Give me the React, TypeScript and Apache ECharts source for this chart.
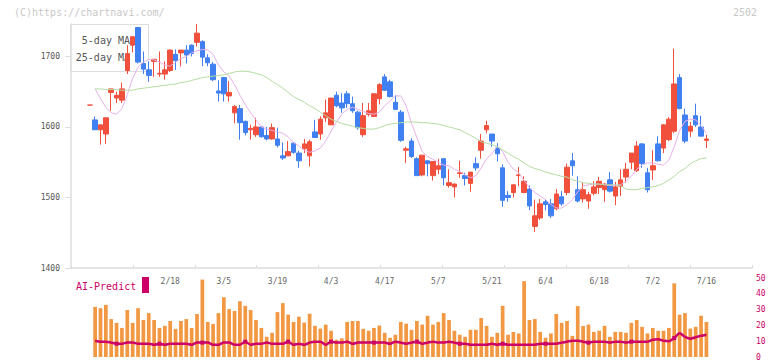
import React, { useEffect, useRef } from "react";
import * as echarts from "echarts";

// Daily candles, oldest first (one per trading day)
const OPEN = [
  1631, 1610, 1596, 1590, 1649, 1641, 1638, 1680, 1716, 1741,
  1690, 1681, 1693, 1675, 1675, 1680, 1703, 1705, 1709, 1716,
  1720, 1721, 1698, 1689, 1651, 1670, 1644, 1620, 1626, 1608,
  1596, 1589, 1600, 1588, 1583, 1583, 1559, 1559, 1577, 1563,
  1569, 1559, 1593, 1590, 1613, 1603, 1645, 1634, 1647, 1633,
  1621, 1589, 1618, 1615, 1640, 1671, 1664, 1635, 1621, 1567,
  1580, 1555, 1532, 1552, 1531, 1540, 1555, 1517, 1515, 1534,
  1531, 1520, 1548, 1567, 1596, 1590, 1570, 1542, 1503, 1507,
  1531, 1507, 1512, 1459, 1471, 1494, 1491, 1484, 1501, 1507,
  1552, 1511, 1498, 1495, 1506, 1514, 1511, 1525, 1502, 1516,
  1529, 1550, 1538, 1576, 1535, 1539, 1576, 1570, 1582, 1594,
  1670, 1617, 1594, 1616, 1600, 1581,
];
const CLOSE = [
  1631, 1596, 1603, 1613, 1654, 1645, 1654, 1704, 1728, 1692,
  1682, 1673, 1696, 1676, 1681, 1709, 1694, 1709, 1702, 1704,
  1733, 1699, 1691, 1667, 1648, 1647, 1649, 1629, 1606, 1592,
  1598, 1600, 1586, 1583, 1599, 1574, 1556, 1565, 1564, 1552,
  1576, 1579, 1585, 1611, 1620, 1641, 1630, 1627, 1633, 1623,
  1599, 1616, 1623, 1647, 1660, 1652, 1643, 1625, 1581, 1569,
  1558, 1531, 1560, 1548, 1551, 1545, 1528, 1521, 1519, 1535,
  1527, 1536, 1542, 1580, 1602, 1580, 1562, 1496, 1500, 1518,
  1532, 1523, 1488, 1474, 1491, 1490, 1474, 1505, 1491, 1543,
  1545, 1495, 1511, 1504, 1515, 1523, 1519, 1509, 1515, 1525,
  1540, 1563, 1573, 1548, 1511, 1545, 1552, 1603, 1611, 1661,
  1626, 1580, 1601, 1603, 1587, 1583,
];
const LOW = [
  1631, 1596, 1575, 1576, 1623, 1634, 1634, 1675, 1706, 1690,
  1675, 1664, 1671, 1671, 1667, 1678, 1681, 1686, 1690, 1700,
  1714, 1686, 1686, 1665, 1636, 1636, 1636, 1605, 1582, 1588,
  1582, 1586, 1585, 1581, 1582, 1571, 1553, 1559, 1562, 1542,
  1563, 1544, 1585, 1582, 1607, 1603, 1628, 1620, 1627, 1620,
  1596, 1586, 1615, 1614, 1632, 1651, 1642, 1624, 1579, 1549,
  1556, 1531, 1530, 1530, 1524, 1533, 1517, 1514, 1500, 1528,
  1517, 1508, 1538, 1555, 1591, 1572, 1551, 1487, 1494, 1500,
  1516, 1506, 1482, 1451, 1468, 1482, 1471, 1482, 1488, 1503,
  1531, 1493, 1493, 1484, 1503, 1505, 1494, 1507, 1489, 1502,
  1521, 1540, 1536, 1542, 1507, 1525, 1551, 1563, 1580, 1591,
  1625, 1577, 1586, 1600, 1587, 1570,
];
const HIGH = [
  1631, 1615, 1603, 1613, 1654, 1650, 1663, 1716, 1728, 1742,
  1707, 1693, 1696, 1707, 1693, 1710, 1710, 1709, 1716, 1717,
  1746, 1723, 1703, 1692, 1666, 1671, 1665, 1631, 1631, 1609,
  1603, 1613, 1601, 1600, 1605, 1599, 1578, 1580, 1578, 1566,
  1583, 1582, 1610, 1615, 1639, 1641, 1650, 1648, 1651, 1643,
  1623, 1634, 1634, 1648, 1662, 1675, 1667, 1645, 1624, 1572,
  1584, 1557, 1560, 1553, 1551, 1555, 1555, 1540, 1520, 1552,
  1535, 1536, 1557, 1590, 1609, 1590, 1577, 1547, 1509, 1518,
  1543, 1530, 1517, 1497, 1498, 1497, 1498, 1512, 1509, 1548,
  1563, 1530, 1522, 1508, 1523, 1529, 1520, 1536, 1522, 1540,
  1549, 1563, 1580, 1577, 1542, 1567, 1587, 1604, 1614, 1711,
  1675, 1626, 1607, 1633, 1616, 1589,
];

// Moving averages (price)
const MA5 = [
  null, 1654, 1640, 1628, 1620, 1618, 1626, 1646, 1669, 1685,
  1692, 1696, 1695, 1692, 1688, 1686, 1692, 1697, 1700, 1705,
  1708, 1710, 1709, 1703, 1688, 1678, 1672, 1660, 1645, 1632,
  1620, 1610, 1600, 1597, 1595, 1593, 1591, 1586, 1578, 1573,
  1567, 1564, 1566, 1570, 1580, 1594, 1607, 1618, 1625, 1628,
  1625, 1622, 1619, 1618, 1621, 1630, 1637, 1644, 1644, 1630,
  1605, 1585, 1565, 1558, 1554, 1550, 1546, 1545, 1540, 1537,
  1532, 1528, 1531, 1542, 1555, 1562, 1573, 1565, 1550, 1540,
  1535, 1524, 1514, 1507, 1502, 1497, 1490, 1485, 1485, 1490,
  1497, 1508, 1516, 1518, 1519, 1519, 1518, 1517, 1517, 1518,
  1523, 1530, 1540, 1546, 1549, 1549, 1547, 1546, 1553, 1572,
  1595, 1608, 1611, 1610, 1602, 1591,
];
const MA25 = [
  null, 1654, 1654, 1653, 1653, 1653, 1652, 1652, 1652, 1654,
  1655, 1656, 1657, 1658, 1659, 1660, 1661, 1663, 1664, 1666,
  1668, 1670, 1671, 1672, 1673, 1674, 1676, 1678, 1679, 1679,
  1678, 1676, 1674, 1670, 1665, 1660, 1655, 1649, 1643, 1639,
  1635, 1630, 1626, 1621, 1616, 1611, 1608, 1605, 1603, 1601,
  1599, 1598, 1597, 1597, 1599, 1602, 1604, 1605, 1606, 1607,
  1607, 1607, 1606, 1606, 1605, 1604, 1602, 1600, 1598, 1596,
  1592, 1588, 1584, 1579, 1577, 1575, 1572, 1567, 1563, 1558,
  1554, 1549, 1544, 1541, 1539, 1536, 1534, 1532, 1530, 1529,
  1525, 1523, 1521, 1520, 1519, 1519, 1518, 1518, 1518, 1517,
  1512, 1511, 1511, 1513, 1514, 1515, 1517, 1520, 1525, 1530,
  1537, 1541, 1548, 1552, 1555, 1556,
];

// Lower panel
const VOLUME = [
  null, 31.7, 30.9, 33.0, 24.0, 21.6, 18.4, 29.7, 21.6, 30.9,
  23.4, 27.8, 23.4, 18.4, 19.7, 22.8, 17.8, 22.8, 24.0, 18.4,
  27.2, 49.0, 22.2, 20.9, 27.8, 37.8, 30.3, 29.1, 35.3, 32.4,
  29.7, 23.4, 18.4, 12.8, 15.3, 28.4, 34.1, 26.8, 22.2, 25.5,
  21.8, 27.4, 19.7, 18.0, 20.5, 16.6, 10.9, 11.8, 22.2, 22.8,
  22.8, 17.8, 16.6, 18.4, 19.9, 15.3, 12.2, 14.1, 22.2, 21.1,
  17.2, 22.8, 20.5, 26.1, 20.5, 22.2, 27.8, 23.4, 16.6, 14.1,
  12.8, 17.2, 17.2, 24.7, 19.7, 12.8, 15.3, 32.4, 14.1, 15.9,
  14.9, 48.0, 23.4, 24.0, 15.9, 12.2, 14.9, 27.2, 21.6, 22.8,
  13.4, 32.2, 19.7, 20.5, 15.9, 16.6, 19.7, 12.8, 15.9, 15.9,
  15.3, 21.6, 23.4, 19.1, 14.9, 18.4, 16.6, 16.6, 18.4, 46.6,
  26.8, 27.8, 18.0, 19.1, 26.1, 22.2,
];
const AI_PREDICT = [
  null, 10.3, 9.7, 9.7, 9.1, 8.4, 8.4, 9.1, 9.1, 8.4,
  8.4, 8.4, 7.8, 8.4, 7.8, 8.4, 8.4, 8.4, 8.4, 7.8,
  9.1, 9.1, 9.1, 7.8, 7.8, 9.1, 9.1, 7.8, 7.8, 9.7,
  7.8, 8.4, 8.4, 9.1, 8.4, 8.4, 8.4, 9.7, 7.8, 8.4,
  7.8, 9.1, 9.7, 9.7, 7.8, 9.7, 9.1, 9.1, 9.7, 8.4,
  9.1, 9.1, 9.1, 9.1, 9.1, 9.1, 8.4, 9.7, 9.1, 8.4,
  9.1, 9.7, 8.4, 9.1, 9.7, 9.1, 9.1, 9.7, 9.1, 8.4,
  8.4, 7.8, 7.8, 7.8, 7.8, 8.4, 7.8, 8.4, 7.8, 7.8,
  7.8, 7.8, 7.8, 7.8, 8.4, 8.4, 8.4, 8.4, 9.1, 9.7,
  10.3, 10.3, 9.7, 9.1, 9.7, 9.7, 9.7, 9.1, 9.7, 9.7,
  9.1, 9.7, 9.7, 9.7, 9.7, 10.9, 11.2, 10.3, 10.0, 12.0,
  15.0, 12.8, 11.6, 12.5, 13.4, 14.1,
];

// Date labels, one every 10 sessions, the last on the latest session
const DATE_LABELS = ["2/18", "3/5", "3/19", "4/3", "4/17", "5/7", "5/21", "6/4", "6/18", "7/2", "7/16"];
const LABEL_STEP = 10;
const PRICE_TICKS = [1400, 1500, 1600, 1700];
const LOWER_TICKS = [0, 10, 20, 30, 40, 50];

const LEAD = 3; // empty slots before the first session
const TRAIL = 8; // empty slots after the last session

const UP = "#f0503c";
const DOWN = "#4080f0";
const MAGENTA = "#cc0066";
const MONO = "DejaVu Sans Mono";

export default function App() {
  const ref = useRef<HTMLDivElement>(null);

  useEffect(() => {
    if (!ref.current) return;
    const chart = echarts.init(ref.current, undefined, { renderer: "svg" });

    const n = OPEN.length;
    const slotCount = LEAD + n + TRAIL;
    const pad = (arr: any[], empty: any = null) => [
      ...Array(LEAD).fill(empty),
      ...arr,
      ...Array(TRAIL).fill(empty),
    ];
    const labelBySlot: Record<number, string> = {};
    DATE_LABELS.forEach((d, k) => {
      const session = n - 1 - LABEL_STEP * (DATE_LABELS.length - 1 - k);
      labelBySlot[LEAD + session] = d;
    });
    const slots = Array.from({ length: slotCount }, (_, i) => labelBySlot[i] ?? "");

    // Sessions that closed flat keep the rising colour
    const candles = pad(
      OPEN.map((o, i) => {
        const value = [o, CLOSE[i], LOW[i], HIGH[i]];
        if (o !== CLOSE[i]) return value;
        return {
          value,
          itemStyle: { color: UP, color0: UP, borderColor: UP, borderColor0: UP },
        };
      }),
      ["-", "-", "-", "-"]
    );

    const option: any = {
      animation: false,
      backgroundColor: "#ffffff",
      textStyle: { fontFamily: MONO },
      grid: [
        { left: 71, right: 20, top: 24, height: 244 },
        { left: 71, right: 20, top: 278, height: 80 },
      ],
      xAxis: [
        {
          type: "category",
          gridIndex: 0,
          data: slots,
          position: "bottom",
          axisLine: { show: false },
          axisTick: { show: false },
          axisLabel: {
            interval: 0,
            fontSize: 8,
            color: "#666",
            fontFamily: MONO,
            margin: 9,
          },
          splitLine: { show: false },
        },
        {
          type: "value",
          gridIndex: 0,
          position: "bottom",
          min: 0,
          max: 11,
          interval: 1,
          axisLine: { show: true, lineStyle: { color: "#dddddd", width: 1.5 } },
          axisTick: { show: true, inside: true, length: 3, lineStyle: { color: "#dddddd" } },
          axisLabel: { show: false },
          splitLine: { show: false },
        },
        {
          type: "category",
          gridIndex: 1,
          data: slots,
          show: false,
        },
      ],
      yAxis: [
        {
          type: "value",
          gridIndex: 0,
          min: 1400,
          max: 1746,
          interval: 100,
          axisLine: { show: true, lineStyle: { color: "#dddddd", width: 1.5 } },
          axisTick: {
            show: true,
            length: 6,
            customValues: PRICE_TICKS,
            lineStyle: { color: "#dddddd" },
          },
          axisLabel: {
            customValues: PRICE_TICKS,
            formatter: (v: number) => String(v),
            fontSize: 8,
            color: "#555",
            fontFamily: MONO,
            margin: 11,
          },
          splitLine: { show: false },
        },
        {
          type: "value",
          gridIndex: 1,
          position: "right",
          min: 0,
          max: 50,
          interval: 10,
          axisLine: { show: false },
          axisTick: { show: false },
          axisLabel: {
            customValues: LOWER_TICKS,
            formatter: (v: number) => String(v),
            fontSize: 8,
            color: MAGENTA,
            fontFamily: MONO,
            margin: 4,
          },
          splitLine: { show: false },
        },
      ],
      graphic: [
        {
          type: "text",
          left: 14,
          top: 7,
          style: { text: "(C)https://chartnavi.com/", fill: "#c8c8c8", font: `10px ${MONO}` },
        },
        {
          type: "text",
          right: 15,
          top: 7,
          style: { text: "2502", fill: "#c8c8c8", font: `10px ${MONO}` },
        },
        {
          type: "rect",
          shape: { x: 70.5, y: 24.5, width: 78, height: 47 },
          style: { fill: "#ffffff", stroke: "#dddddd", lineWidth: 1 },
          z: -1,
        },
        {
          type: "text",
          x: 130,
          y: 40,
          z: -1,
          style: { text: "5-day MA", fill: "#555", font: `10px ${MONO}`, align: "right", verticalAlign: "middle" },
        },
        {
          type: "text",
          x: 130,
          y: 57,
          z: -1,
          style: { text: "25-day MA", fill: "#555", font: `10px ${MONO}`, align: "right", verticalAlign: "middle" },
        },
        {
          type: "text",
          x: 76,
          y: 286,
          style: { text: "AI-Predict", fill: MAGENTA, font: `10px ${MONO}`, verticalAlign: "middle" },
        },
        {
          type: "rect",
          shape: { x: 142, y: 277, width: 7, height: 16 },
          style: { fill: MAGENTA },
        },
      ],
      series: [
        {
          type: "candlestick",
          xAxisIndex: 0,
          yAxisIndex: 0,
          data: candles,
          barWidth: 5,
          itemStyle: {
            color: UP,
            color0: DOWN,
            borderColor: UP,
            borderColor0: DOWN,
            borderWidth: 1,
          },
          z: 3,
        },
        {
          type: "line",
          xAxisIndex: 0,
          yAxisIndex: 0,
          data: pad(MA5),
          symbol: "none",
          lineStyle: { color: "#e8b0ec", width: 1 },
          z: 4,
        },
        {
          type: "line",
          xAxisIndex: 0,
          yAxisIndex: 0,
          data: pad(MA25),
          symbol: "none",
          lineStyle: { color: "#b4dca2", width: 1 },
          z: 4,
        },
        {
          type: "bar",
          xAxisIndex: 2,
          yAxisIndex: 1,
          data: pad(VOLUME),
          barWidth: 3.7,
          itemStyle: { color: "#f29742" },
        },
        {
          type: "line",
          xAxisIndex: 2,
          yAxisIndex: 1,
          data: pad(AI_PREDICT),
          smooth: 0.3,
          symbol: "rect",
          symbolSize: 4,
          itemStyle: { color: MAGENTA },
          lineStyle: { color: MAGENTA, width: 2.5 },
          z: 4,
        },
      ],
    };

    chart.setOption(option);
    return () => chart.dispose();
  }, []);

  return (
    <div
      ref={ref}
      style={{ position: "fixed", left: 0, top: 0, width: 772, height: 361, background: "#fff" }}
    />
  );
}
